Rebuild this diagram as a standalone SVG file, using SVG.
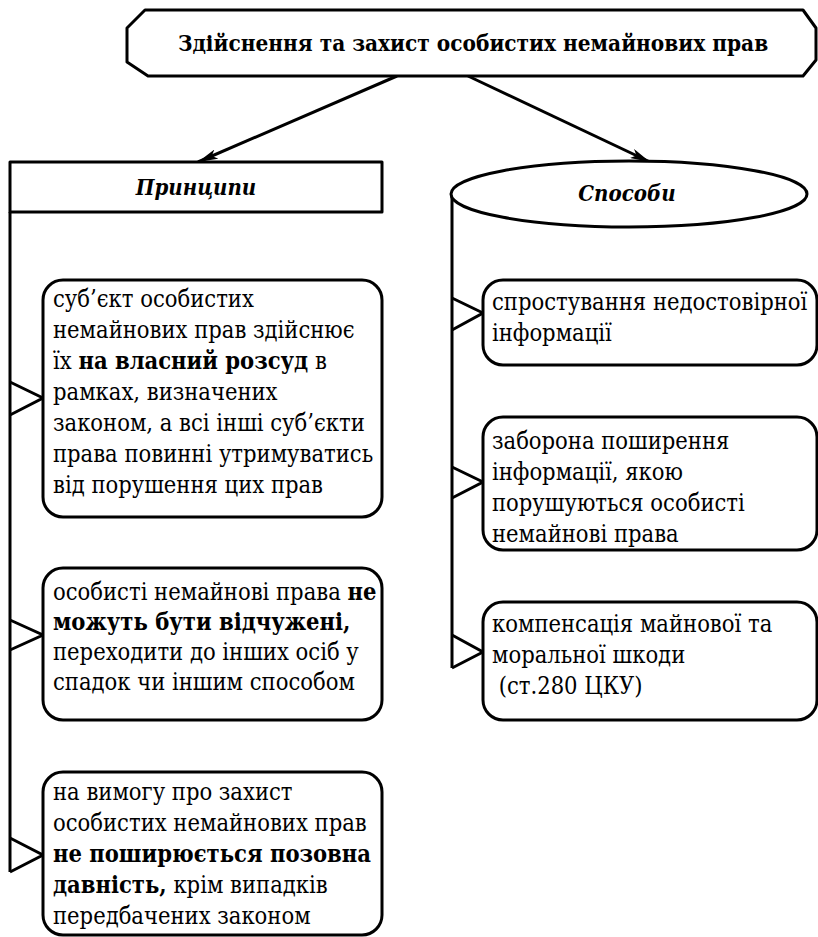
<svg xmlns="http://www.w3.org/2000/svg" width="818" height="937" viewBox="0 0 818 937">
<defs>
<style>
.sh{fill:#fff;stroke:#000;stroke-width:3;stroke-linejoin:round}
.ln{fill:none;stroke:#000;stroke-width:3;stroke-linejoin:miter}
text{font-family:'DejaVu Serif Condensed','DejaVu Serif',serif;font-stretch:condensed;fill:#000}
.t{font-size:23.5px}
.b{font-weight:bold}
.h{font-size:22.4px;font-weight:bold}
.hi{font-size:22px;font-weight:bold;font-style:italic}
</style>
<marker id="ar" viewBox="0 0 20 10" refX="20" refY="5" markerWidth="20" markerHeight="10" markerUnits="userSpaceOnUse" orient="auto">
<path d="M0,0 L20,5 L0,10 L5,5 Z" fill="#000"/>
</marker>
</defs>

<g id="connectors">
<line class="ln" x1="397" y1="76" x2="198" y2="162" marker-end="url(#ar)"/>
<line class="ln" x1="468" y1="76" x2="650" y2="162" marker-end="url(#ar)"/>
<polyline class="ln" points="10,212 10,872"/>
<polyline class="ln" points="452,195 452,668"/>
<polyline class="ln" points="10,382 43,398 10,415"/>
<polyline class="ln" points="10,620 43,635 10,650"/>
<polyline class="ln" points="10,838 43,855 10,872"/>
<polyline class="ln" points="452,298 483,313 452,330"/>
<polyline class="ln" points="452,467 483,482 452,498"/>
<polyline class="ln" points="452,635 483,652 452,668"/>
</g>

<g id="title">
<polygon class="sh" points="145,10 803,10 816,28 816,60 803,76 148,76 127,62 127,28"/>
<text class="h" x="473" y="51" text-anchor="middle">Здійснення та захист особистих немайнових прав</text>
</g>

<g id="pryntsypy">
<rect class="sh" x="10" y="162" width="372" height="50"/>
<text class="hi" x="196" y="195" text-anchor="middle">Принципи</text>
</g>

<g id="sposoby">
<ellipse class="sh" cx="629" cy="194" rx="178" ry="33"/>
<text class="hi" x="627" y="201" text-anchor="middle">Способи</text>
</g>

<g id="p1">
<rect class="sh" x="43" y="280" width="339" height="237" rx="20"/>
<text class="t" x="53" y="307">суб’єкт особистих</text>
<text class="t" x="53" y="338">немайнових прав здійснює</text>
<text class="t" x="53" y="369">їх <tspan class="b">на власний розсуд</tspan> в</text>
<text class="t" x="53" y="400">рамках, визначених</text>
<text class="t" x="53" y="431">законом, а всі інші суб’єкти</text>
<text class="t" x="53" y="462">права повинні утримуватись</text>
<text class="t" x="53" y="493">від порушення цих прав</text>
</g>

<g id="p2">
<rect class="sh" x="43" y="568" width="339" height="152" rx="20"/>
<text class="t" x="53" y="600">особисті немайнові права <tspan class="b">не</tspan></text>
<text class="t b" x="53" y="630">можуть бути відчужені,</text>
<text class="t" x="53" y="660">переходити до інших осіб у</text>
<text class="t" x="53" y="690">спадок чи іншим способом</text>
</g>

<g id="p3">
<rect class="sh" x="43" y="772" width="339" height="163" rx="20"/>
<text class="t" x="53" y="800">на вимогу про захист</text>
<text class="t" x="53" y="831">особистих немайнових прав</text>
<text class="t b" x="53" y="862">не поширюється позовна</text>
<text class="t" x="53" y="893"><tspan class="b">давність,</tspan> крім випадків</text>
<text class="t" x="53" y="924">передбачених законом</text>
</g>

<g id="s1">
<rect class="sh" x="483" y="280" width="334" height="85" rx="20"/>
<text class="t" x="492" y="310">спростування недостовірної</text>
<text class="t" x="492" y="341">інформації</text>
</g>

<g id="s2">
<rect class="sh" x="483" y="417" width="334" height="133" rx="20"/>
<text class="t" x="492" y="449">заборона поширення</text>
<text class="t" x="492" y="480">інформації, якою</text>
<text class="t" x="492" y="511">порушуються особисті</text>
<text class="t" x="492" y="542">немайнові права</text>
</g>

<g id="s3">
<rect class="sh" x="483" y="602" width="334" height="118" rx="20"/>
<text class="t" x="492" y="632">компенсація майнової та</text>
<text class="t" x="492" y="663">моральної шкоди</text>
<text class="t" x="492" y="694" xml:space="preserve"> (ст.280 ЦКУ)</text>
</g>
</svg>
